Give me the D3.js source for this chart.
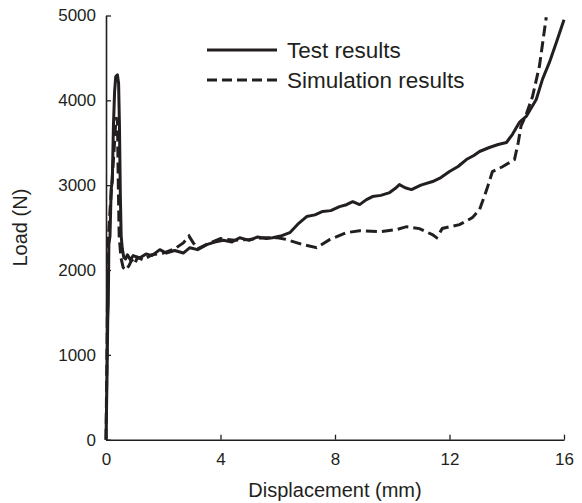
<!DOCTYPE html>
<html>
<head>
<meta charset="utf-8">
<script src="https://cdn.jsdelivr.net/npm/d3@7"></script>
<style>
  body { margin: 0; background: #fff; }
  svg text { font-family: "Liberation Sans", Arial, Helvetica, sans-serif; fill: #231f20; }
</style>
</head>
<body>
<div id="chart"></div>
<script>
// displacement (mm) / load (N)
const testDisp = [0, 0.02, 0.04, 0.06, 0.08, 0.1, 0.14, 0.18, 0.22, 0.26, 0.3, 0.34, 0.4, 0.44, 0.47, 0.5, 0.53, 0.57, 0.62, 0.68, 0.75, 0.85, 0.95, 1.1, 1.19, 1.4, 1.6, 1.88, 2.1, 2.4, 2.7, 2.93, 3.2, 3.52, 3.8, 4.1, 4.4, 4.67, 5.0, 5.3, 5.6, 5.82, 6.1, 6.42, 6.7, 7.01, 7.3, 7.57, 7.85, 8.16, 8.4, 8.62, 8.86, 9.1, 9.31, 9.6, 9.91, 10.1, 10.25, 10.45, 10.67, 11.0, 11.41, 11.7, 12.0, 12.3, 12.59, 12.85, 13.05, 13.39, 13.7, 13.99, 14.2, 14.44, 14.68, 15.03, 15.25, 15.49, 15.75, 16.0];
const testLoad = [0, 400, 850, 1400, 1600, 2300, 2400, 2950, 3050, 3700, 4100, 4280, 4300, 4200, 3700, 2900, 2400, 2250, 2150, 2130, 2180, 2120, 2170, 2150, 2145, 2190, 2170, 2240, 2200, 2230, 2200, 2263, 2240, 2300, 2330, 2350, 2330, 2381, 2350, 2390, 2370, 2381, 2400, 2440, 2540, 2630, 2650, 2690, 2700, 2747, 2770, 2806, 2771, 2830, 2866, 2880, 2913, 2960, 3007, 2970, 2948, 3000, 3043, 3090, 3161, 3220, 3302, 3350, 3397, 3444, 3480, 3503, 3600, 3739, 3810, 4010, 4250, 4447, 4700, 4950];

const simDisp = [0, 0.03, 0.05, 0.07, 0.12, 0.2, 0.28, 0.35, 0.4, 0.43, 0.46, 0.52, 0.6, 0.7, 0.8, 0.9, 1.0, 1.1, 1.3, 1.6, 2.0, 2.4, 2.7, 2.9, 3.05, 3.2, 3.5, 4.0, 4.5, 5.0, 5.5, 6.0, 6.3, 6.87, 7.36, 7.81, 8.4, 8.86, 9.56, 10.15, 10.5, 10.95, 11.4, 11.55, 11.75, 12.35, 12.8, 13.05, 13.3, 13.5, 13.85, 14.27, 14.4, 14.5, 14.68, 14.9, 15.14, 15.38];
const simLoad = [0, 900, 1600, 2300, 2600, 3000, 3400, 3800, 3750, 3000, 2400, 2150, 2030, 2000, 2050, 2120, 2070, 2150, 2120, 2180, 2200, 2250, 2320, 2400, 2320, 2250, 2300, 2370, 2350, 2360, 2380, 2380, 2360, 2300, 2263, 2358, 2440, 2464, 2452, 2476, 2511, 2488, 2417, 2381, 2490, 2535, 2617, 2712, 2948, 3160, 3217, 3302, 3500, 3700, 3833, 4045, 4400, 4980];

const xTicks = [0, 4, 8, 12, 16];
const yTicks = [0, 1000, 2000, 3000, 4000, 5000];
const legendLabels = ['Test results', 'Simulation results'];

const width = 582, height = 503;
const margin = { left: 106, top: 15.5, right: 18, bottom: 63.3 };

const svg = d3.select('#chart').append('svg')
  .attr('width', width)
  .attr('height', height);

const x = d3.scaleLinear().domain([0, 16]).range([margin.left, width - margin.right]);
const y = d3.scaleLinear().domain([0, 5000]).range([height - margin.bottom, margin.top]);

// axes, ticks point inward
const xAxis = svg.append('g')
  .attr('transform', `translate(0,${y(0)})`)
  .call(d3.axisBottom(x).tickValues(xTicks).tickFormat(d3.format('d'))
    .tickSizeInner(-5).tickSizeOuter(0).tickPadding(13));
const yAxis = svg.append('g')
  .attr('transform', `translate(${x(0)},0)`)
  .call(d3.axisLeft(y).tickValues(yTicks).tickFormat(d3.format('d'))
    .tickSizeInner(-5).tickSizeOuter(0).tickPadding(10));

[xAxis, yAxis].forEach(g => {
  g.select('.domain').attr('stroke', '#231f20').attr('stroke-width', 1.6);
  g.selectAll('.tick line').attr('stroke', '#231f20').attr('stroke-width', 1.3);
  g.selectAll('.tick text').style('font-size', '17px').attr('fill', '#231f20');
});

const line = (xs, ys) => d3.line()
  .x((d, i) => x(xs[i]))
  .y((d, i) => y(ys[i]))(xs);

svg.append('path')
  .attr('d', line(testDisp, testLoad))
  .attr('fill', 'none')
  .attr('stroke', '#231f20')
  .attr('stroke-width', 3)
  .attr('stroke-linejoin', 'round');

svg.append('path')
  .attr('d', line(simDisp, simLoad))
  .attr('fill', 'none')
  .attr('stroke', '#231f20')
  .attr('stroke-width', 3)
  .attr('stroke-dasharray', '11,5');

// legend
const legend = svg.append('g');
legendLabels.forEach((label, i) => {
  const ly = 50 + i * 30;
  legend.append('line')
    .attr('x1', 207).attr('x2', 277)
    .attr('y1', ly).attr('y2', ly)
    .attr('stroke', '#231f20')
    .attr('stroke-width', 3)
    .attr('stroke-dasharray', i === 0 ? null : '10,5');
  legend.append('text')
    .attr('x', 287).attr('y', ly + 8)
    .style('font-size', '22.5px')
    .text(label);
});

// axis titles
svg.append('text')
  .attr('x', (x(0) + x(16)) / 2)
  .attr('y', 497)
  .attr('text-anchor', 'middle')
  .style('font-size', '20px')
  .text('Displacement (mm)');

svg.append('text')
  .attr('transform', `translate(27,${(y(0) + y(5000)) / 2}) rotate(-90)`)
  .attr('text-anchor', 'middle')
  .style('font-size', '20px')
  .text('Load (N)');
</script>
</body>
</html>
